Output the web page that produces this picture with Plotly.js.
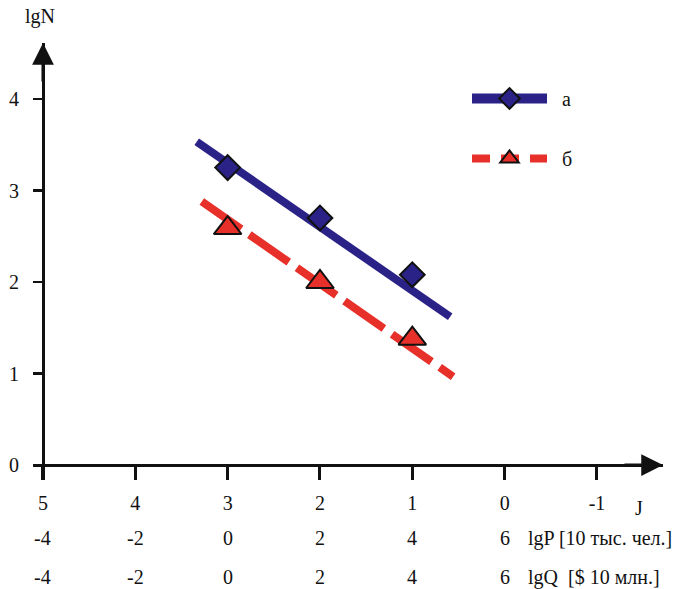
<!DOCTYPE html>
<html>
<head>
<meta charset="utf-8">
<script src="https://cdn.plot.ly/plotly-3.0.1.min.js"></script>
<style>html,body{margin:0;padding:0;background:#fff;}#chart{width:673px;height:589px;}</style>
</head>
<body>
<div id="chart"></div>
<script>
// ---- data ----
const J_ticks = [5, 4, 3, 2, 1, 0, -1];
const J_labels = ['5', '4', '3', '2', '1', '0', '-1'];
const lgN_ticks = [0, 1, 2, 3, 4];
const lgN_labels = ['0', '1', '2', '3', '4'];
const row_J = [5, 4, 3, 2, 1, 0];
const lgP_labels = ['-4', '-2', '0', '2', '4', '6'];
const lgQ_labels = ['-4', '-2', '0', '2', '4', '6'];
const lgP_title = 'lgP [10 тыс. чел.]';
const lgQ_title = 'lgQ\u00a0\u00a0[$ 10 млн.]';
const seriesNames = ['а', 'б'];
const pts_J = [3, 2, 1];
const a_lgN = [3.25, 2.70, 2.08];
const b_lgN = [2.59, 2.00, 1.38];
const a_fit_J = [3.335, 0.59];
const a_fit_lgN = [3.533, 1.62];
const b_fit_J = [3.28, 0.558];
const b_fit_lgN = [2.88, 0.965];

// ---- style ----
const FONT = '"Liberation Serif", "Times New Roman", serif';
const FS = 20;
const BLUE = '#2b2288';
const RED = '#e8302a';
const INK = '#111111';
const xRange = [5.108, -1.715];
const yRange = [-0.1639, 4.612];

const traces = [
  // fit lines
  {x: a_fit_J, y: a_fit_lgN, mode: 'lines', line: {color: BLUE, width: 8}, showlegend: false, hoverinfo: 'skip'},
  {x: b_fit_J, y: b_fit_lgN, mode: 'lines', line: {color: RED, width: 8, dash: '48px,10px'}, showlegend: false, hoverinfo: 'skip'},
  // data points
  {x: pts_J, y: a_lgN, mode: 'markers', showlegend: false,
   marker: {symbol: 'diamond', size: 19, color: BLUE, line: {color: INK, width: 2}}},
  {x: pts_J, y: b_lgN, mode: 'markers', showlegend: false,
   marker: {symbol: 'triangle-up', size: 24, color: RED, line: {color: INK, width: 2}}},
  // legend entries
  {x: [null], y: [null], mode: 'lines+markers', name: '\u00a0\u00a0' + seriesNames[0], legendgroup: 'a',
   line: {color: BLUE, width: 10}, marker: {symbol: 'diamond', size: 19, color: BLUE, line: {color: INK, width: 2}}},
  {x: [null], y: [null], mode: 'lines+markers', name: '\u00a0\u00a0' + seriesNames[1], legendgroup: 'b',
   line: {color: RED, width: 8, dash: '18px,11px'}, marker: {symbol: 'triangle-up', size: 24, color: RED, line: {color: INK, width: 2}}}
];

const W = 673, H = 589, ML = 33, MR = 10, MT = 43, MB = 109;
const plotH = H - MT - MB;
function pyFrac(px) { return (H - MB - px) / plotH; }
const txt = {family: FONT, size: FS, color: INK};

const annotations = [];
// axis arrowheads
annotations.push({x: xRange[1], y: 0, xref: 'x', yref: 'y', ax: -40, ay: 0, text: '', showarrow: true,
  arrowhead: 2, arrowsize: 1.45, arrowwidth: 3, arrowcolor: INK});
annotations.push({x: 5, y: yRange[1], xref: 'x', yref: 'y', ax: 0, ay: 40, text: '', showarrow: true,
  arrowhead: 2, arrowsize: 1.45, arrowwidth: 3, arrowcolor: INK});
// axis names
annotations.push({x: 0.0111, y: pyFrac(17), xref: 'paper', yref: 'paper', text: 'lgN', showarrow: false,
  xanchor: 'center', yanchor: 'middle', font: txt});
annotations.push({x: -1.455, y: pyFrac(508), xref: 'x', yref: 'paper', text: 'J', showarrow: false,
  xanchor: 'center', yanchor: 'middle', font: txt});
// secondary scales
row_J.forEach((j, i) => {
  annotations.push({x: j, y: pyFrac(538), xref: 'x', yref: 'paper', text: lgP_labels[i], showarrow: false,
    xanchor: 'center', yanchor: 'middle', font: txt});
  annotations.push({x: j, y: pyFrac(577), xref: 'x', yref: 'paper', text: lgQ_labels[i], showarrow: false,
    xanchor: 'center', yanchor: 'middle', font: txt});
});
annotations.push({x: -0.23, y: pyFrac(538), xref: 'x', yref: 'paper', text: lgP_title, showarrow: false,
  xanchor: 'left', yanchor: 'middle', font: txt});
annotations.push({x: -0.23, y: pyFrac(577), xref: 'x', yref: 'paper', text: lgQ_title, showarrow: false,
  xanchor: 'left', yanchor: 'middle', font: txt});

const layout = {
  width: W, height: H,
  margin: {l: ML, r: MR, t: MT, b: MB, pad: 0},
  paper_bgcolor: '#ffffff', plot_bgcolor: '#ffffff',
  font: txt,
  showlegend: true,
  legend: {x: (467 - ML) / (W - ML - MR), y: pyFrac(79), xanchor: 'left', yanchor: 'top',
    itemwidth: 75, tracegroupgap: 31, bgcolor: 'rgba(0,0,0,0)', borderwidth: 0, font: txt},
  xaxis: {range: xRange, anchor: 'free', position: 15 / plotH, showline: true, linecolor: INK, linewidth: 3,
    ticks: 'outside', ticklen: 13, tickwidth: 3, tickcolor: INK, tickmode: 'array',
    tickvals: J_ticks, ticktext: J_labels, showgrid: false, zeroline: false, ticklabelstandoff: 6,
    tickfont: txt},
  yaxis: {range: yRange, anchor: 'free', position: 10 / (W - ML - MR), showline: true, linecolor: INK, linewidth: 3,
    ticks: 'outside', ticklen: 9, tickwidth: 2.5, tickcolor: INK, tickmode: 'array',
    tickvals: lgN_ticks, ticktext: lgN_labels, showgrid: false, zeroline: false, ticklabelstandoff: 10,
    tickfont: txt},
  annotations: annotations
};

Plotly.newPlot('chart', traces, layout, {displayModeBar: false, staticPlot: true});
</script>
</body>
</html>
